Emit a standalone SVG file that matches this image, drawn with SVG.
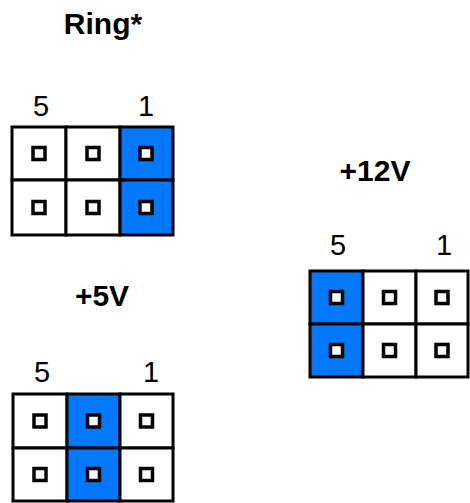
<svg xmlns="http://www.w3.org/2000/svg" width="470" height="503" viewBox="0 0 470 503">
<style>
.title{font-family:"Liberation Sans",Arial,sans-serif;font-weight:bold;font-size:30px;fill:#000;text-anchor:middle}
.num{font-family:"Liberation Sans",Arial,sans-serif;font-size:29px;fill:#000;text-anchor:middle}
.cell{fill:#fff;stroke:#000;stroke-width:3}
.on{fill:#0078ff;stroke:#000;stroke-width:3}
.pin{fill:#fff;stroke:#000;stroke-width:3.5}
</style>
<rect width="470" height="503" fill="#fff"/>
<g id="ring">
<text class="title" x="103" y="34">Ring*</text>
<text class="num" x="41" y="116">5</text>
<text class="num" x="146" y="116">1</text>
<rect class="cell" x="12" y="127" width="54" height="53"/>
<rect class="cell" x="66" y="127" width="54" height="53"/>
<rect class="on" x="120" y="127" width="53" height="53"/>
<rect class="cell" x="12" y="180" width="54" height="55"/>
<rect class="cell" x="66" y="180" width="54" height="55"/>
<rect class="on" x="120" y="180" width="53" height="55"/>
<rect class="pin" x="33" y="147.5" width="12" height="12"/>
<rect class="pin" x="87" y="147.5" width="12" height="12"/>
<rect class="pin" x="140" y="147.5" width="12" height="12"/>
<rect class="pin" x="33" y="201.5" width="12" height="12"/>
<rect class="pin" x="87" y="201.5" width="12" height="12"/>
<rect class="pin" x="140" y="201.5" width="12" height="12"/>
</g>
<g id="v12">
<text class="title" x="375" y="181">+12V</text>
<text class="num" x="338" y="255">5</text>
<text class="num" x="444" y="255">1</text>
<rect class="on" x="310" y="271" width="53" height="53"/>
<rect class="cell" x="363" y="271" width="53" height="53"/>
<rect class="cell" x="416" y="271" width="52" height="53"/>
<rect class="on" x="310" y="324" width="53" height="53"/>
<rect class="cell" x="363" y="324" width="53" height="53"/>
<rect class="cell" x="416" y="324" width="52" height="53"/>
<rect class="pin" x="330.5" y="291.5" width="12" height="12"/>
<rect class="pin" x="383.5" y="291.5" width="12" height="12"/>
<rect class="pin" x="436" y="291.5" width="12" height="12"/>
<rect class="pin" x="330.5" y="344.5" width="12" height="12"/>
<rect class="pin" x="383.5" y="344.5" width="12" height="12"/>
<rect class="pin" x="436" y="344.5" width="12" height="12"/>
</g>
<g id="v5">
<text class="title" x="102" y="306">+5V</text>
<text class="num" x="42" y="382">5</text>
<text class="num" x="151" y="382">1</text>
<rect class="cell" x="13" y="394" width="54" height="54"/>
<rect class="on" x="67" y="394" width="53" height="54"/>
<rect class="cell" x="120" y="394" width="53" height="54"/>
<rect class="cell" x="13" y="448" width="54" height="53"/>
<rect class="on" x="67" y="448" width="53" height="53"/>
<rect class="cell" x="120" y="448" width="53" height="53"/>
<rect class="pin" x="34" y="415" width="12" height="12"/>
<rect class="pin" x="87.5" y="415" width="12" height="12"/>
<rect class="pin" x="140.5" y="415" width="12" height="12"/>
<rect class="pin" x="34" y="468.5" width="12" height="12"/>
<rect class="pin" x="87.5" y="468.5" width="12" height="12"/>
<rect class="pin" x="140.5" y="468.5" width="12" height="12"/>
</g>
<g id="connectors"/>
</svg>
